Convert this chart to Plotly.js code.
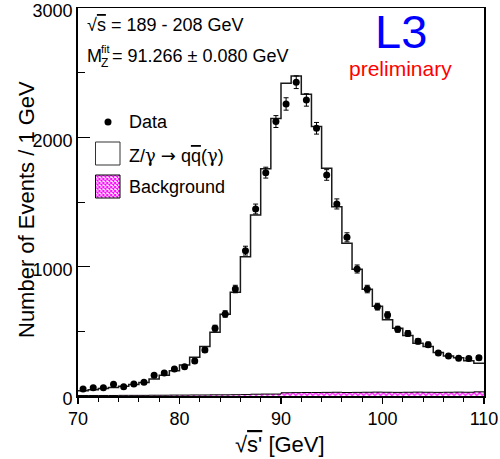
<!DOCTYPE html>
<html>
<head>
<meta charset="utf-8">
<script src="https://cdn.plot.ly/plotly-3.0.1.min.js"></script>
<style>html,body{margin:0;padding:0;background:#fff;}#chart{width:500px;height:459px;}</style>
</head>
<body>
<div id="chart"></div>
<script>
// bin centres of the 1 GeV bins, sqrt(s') in GeV
const binCenters = [70.5,71.5,72.5,73.5,74.5,75.5,76.5,77.5,78.5,79.5,
  80.5,81.5,82.5,83.5,84.5,85.5,86.5,87.5,88.5,89.5,
  90.5,91.5,92.5,93.5,94.5,95.5,96.5,97.5,98.5,99.5,
  100.5,101.5,102.5,103.5,104.5,105.5,106.5,107.5,108.5,109.5];
// measured events per bin
const dataEvents = [54,64,64,90,72,93,106,160,178,209,
  227,271,356,524,634,827,1124,1446,1727,2122,
  2258,2426,2289,2070,1709,1485,1227,982,827,691,
  626,516,484,423,397,332,309,291,289,296];
// statistical errors on the data
const dataErrors = [7,8,8,9,8,10,10,13,13,14,
  15,16,19,23,25,29,34,38,42,46,
  48,49,48,45,41,39,35,31,29,26,
  25,23,22,21,20,18,18,17,17,17];
// Z/gamma -> qqbar(gamma) Monte Carlo expectation
const mcEvents = [40,48,58,66,76,88,105,132,160,195,
  240,300,383,492,632,802,1077,1400,1758,2145,
  2418,2475,2333,2083,1760,1464,1181,980,825,693,
  590,523,467,407,382,337,309,296,273,253];
// background expectation
const bgEvents = [4,4,4,4,5,5,5,6,6,7,
  7,8,8,9,9,10,11,14,15,15,
  25,26,27,27,28,29,27,28,29,30,
  29,28,29,30,29,28,29,30,29,32];

const xTickVals = [70,80,90,100,110];
const yTickVals = [0,1000,2000,3000];

// step-histogram helpers (left edges + final right edge)
const binWidth = 1;
const edges = binCenters.map(c => c - binWidth/2).concat([binCenters[binCenters.length-1] + binWidth/2]);
const stepY = arr => arr.concat([arr[arr.length-1]]);

const FONT = '"Liberation Sans", Arial, Helvetica, sans-serif';

// plot-area pixel helpers for annotation placement
const L = 78, T = 8, W = 406, H = 388;
const px = x => (x - L) / W;
const py = y => (T + H - y) / H;

const traces = [
  {
    type: 'scatter', mode: 'lines', x: edges, y: stepY(bgEvents),
    line: {shape: 'hv', color: '#000', width: 1},
    fill: 'tozeroy', fillcolor: '#ffffff',
    fillpattern: {shape: 'x', fgcolor: '#ff00ff', bgcolor: '#ffffff', size: 4, solidity: 0.55},
    showlegend: false, hoverinfo: 'skip'
  },
  {
    type: 'scatter', mode: 'lines', x: edges, y: stepY(mcEvents),
    line: {shape: 'hv', color: '#1a1a1a', width: 1.5},
    showlegend: false, hoverinfo: 'skip'
  },
  {
    type: 'scatter', mode: 'markers', x: binCenters, y: dataEvents,
    marker: {color: '#000', size: 7, symbol: 'circle'},
    error_y: {type: 'data', array: dataErrors, visible: true, color: '#000', thickness: 1, width: 2.5},
    showlegend: false, hoverinfo: 'skip'
  }
];

const patternSVG = "<svg xmlns='http://www.w3.org/2000/svg' width='25' height='23'>" +
  "<defs><pattern id='p' width='4' height='4' patternUnits='userSpaceOnUse'>" +
  "<path d='M0,0L4,4M4,0L0,4' stroke='#ff00ff' stroke-width='1.1'/></pattern></defs>" +
  "<rect width='25' height='23' fill='#ffffff'/><rect width='25' height='23' fill='url(#p)'/></svg>";

const ann = (text, x, y, opts) => Object.assign({
  text: text, xref: 'paper', yref: 'paper', x: px(x), y: py(y),
  xanchor: 'left', yanchor: 'middle', showarrow: false,
  font: {family: FONT, size: 18, color: '#000'}
}, opts || {});

const layout = {
  width: 500, height: 459,
  margin: {l: L, r: 500 - L - W, t: T, b: 459 - T - H, pad: 0},
  paper_bgcolor: '#fff', plot_bgcolor: '#fff',
  showlegend: false,
  font: {family: FONT, size: 18, color: '#000'},
  xaxis: {
    range: [70, 110], tickvals: xTickVals, ticktext: xTickVals.map(String),
    ticks: 'outside', ticklen: 6, tickwidth: 1.2, tickcolor: '#000',
    minor: {dtick: 2, tick0: 70, ticks: 'outside', ticklen: 4, tickwidth: 1, tickcolor: '#000'},
    showline: true, linecolor: '#000', linewidth: 1.5, mirror: true,
    showgrid: false, zeroline: false, ticklabeloverflow: 'allow',
    tickfont: {family: FONT, size: 18, color: '#000'}
  },
  yaxis: {
    range: [0, 3000], tickvals: yTickVals, ticktext: yTickVals.map(String),
    ticks: 'inside', ticklen: 12, tickwidth: 1.2, tickcolor: '#000',
    minor: {dtick: 500, tick0: 0, ticks: 'inside', ticklen: 7, tickwidth: 1, tickcolor: '#000'},
    showline: true, linecolor: '#000', linewidth: 1.8, mirror: true,
    showgrid: false, zeroline: false, ticklabeloverflow: 'allow', ticklabelshift: 3,
    tickfont: {family: FONT, size: 18, color: '#000'}
  },
  annotations: [
    ann('Number of Events / 1 GeV', 27, 210, {xanchor: 'center', textangle: -90, font: {family: FONT, size: 22, color: '#000'}}),
    ann("√<span style=\"text-decoration:overline\">s'</span> [GeV]", 280, 444, {xanchor: 'center', font: {family: FONT, size: 22, color: '#000'}}),
    ann('√<span style="text-decoration:overline">s</span> = 189 - 208 GeV', 85, 25),
    ann('M', 85, 56),
    ann('fit', 98.5, 49, {font: {family: FONT, size: 11, color: '#000'}}),
    ann('Z', 98.5, 63, {font: {family: FONT, size: 12, color: '#000'}}),
    ann('= 91.266 ± 0.080 GeV', 110, 56),
    ann('L3', 401, 31, {xanchor: 'center', font: {family: FONT, size: 47, color: '#0000ff'}}),
    ann('preliminary', 400, 68, {xanchor: 'center', font: {family: FONT, size: 21, color: '#ff0000'}}),
    ann('Data', 127, 122),
    ann('Z/<span style="font-family:\'DejaVu Serif\'">γ</span> <span style="font-family:\'DejaVu Sans\'">→</span> q<span style="text-decoration:overline">q</span>(<span style="font-family:\'DejaVu Serif\'">γ</span>)', 127, 155),
    ann('Background', 127, 187)
  ],
  shapes: [
    {type: 'circle', xref: 'paper', yref: 'paper', x0: px(104.5), x1: px(111.5), y0: py(118.5), y1: py(125.5),
     fillcolor: '#000', line: {width: 0}},
    {type: 'rect', xref: 'paper', yref: 'paper', x0: px(95.5), x1: px(120), y0: py(165), y1: py(142),
     fillcolor: 'rgba(0,0,0,0)', line: {color: '#333', width: 1}},
    {type: 'rect', xref: 'paper', yref: 'paper', x0: px(95.5), x1: px(120), y0: py(198), y1: py(175),
     fillcolor: 'rgba(0,0,0,0)', line: {color: '#000', width: 1}, layer: 'above'}
  ],
  images: [
    {source: 'data:image/svg+xml;charset=utf-8,' + encodeURIComponent(patternSVG),
     xref: 'paper', yref: 'paper', x: px(95.5), y: py(175), sizex: 24.5 / W, sizey: 23 / H,
     xanchor: 'left', yanchor: 'top', sizing: 'stretch', layer: 'above'}
  ]
};

Plotly.newPlot('chart', traces, layout, {displayModeBar: false, staticPlot: true});
</script>
</body>
</html>
